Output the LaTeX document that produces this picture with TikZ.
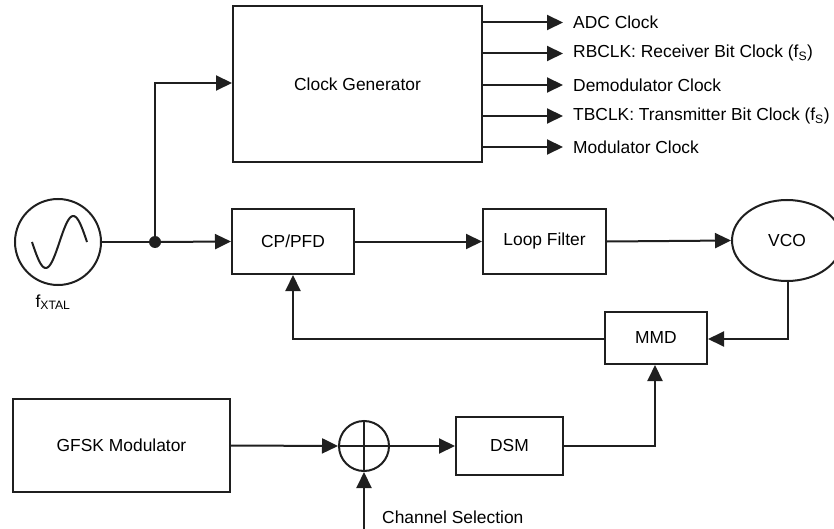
\documentclass[tikz,border=0pt]{standalone}
\usepackage{fontspec}
\setmainfont{Liberation Sans}
\usetikzlibrary{arrows.meta,shapes.geometric}
\tikzset{
  ln/.style={line width=2pt, draw=black!88},
  arr/.style={ln, -{Triangle[length=16pt,width=15pt]}},
  blk/.style={ln, rectangle, inner sep=0pt, font=\fontsize{17.4}{20}\selectfont},
  lbl/.style={inner sep=0pt, anchor=west, font=\fontsize{17.4}{20}\selectfont},
}
\begin{document}
\begin{tikzpicture}[x=1pt,y=-1pt]
\useasboundingbox (0,0) rectangle (834,529);
\clip (0,0) rectangle (834,529);
% blocks
\node[blk, minimum width=249pt, minimum height=156pt] (cg) at (357.5,84) {Clock Generator};
\node[blk, minimum width=122pt, minimum height=65pt] (pfd) at (293,241.5) {CP/PFD};
\node[blk, minimum width=123pt, minimum height=65pt] (lf) at (544.5,241.5) {Loop Filter};
\node[blk, ellipse, minimum width=110pt, minimum height=81pt] (vco) at (787,240.5) {VCO};
\node[blk, minimum width=102pt, minimum height=52pt] (mmd) at (656,338) {MMD};
\node[blk, minimum width=107pt, minimum height=58pt] (dsm) at (509.5,446) {DSM};
\node[blk, minimum width=217pt, minimum height=93pt] (gfsk) at (121.5,445.5) {GFSK Modulator};
\node[ln, circle, minimum size=50pt, inner sep=0pt] (sum) at (364,446) {};
\draw[ln] (sum.north) -- (sum.south) (sum.west) -- (sum.east);
% crystal oscillator
\node[ln, circle, minimum size=86pt, inner sep=0pt] (osc) at (58,242) {};
\draw[ln] plot[variable=\t, domain=0:360, samples=60, smooth] ({32+\t/360*55},{242+26*sin(\t)});
\node[inner sep=0pt, font=\fontsize{17.4}{20}\selectfont] (fx) at (53,302) {f\textsubscript{XTAL}};
\fill[black!88] (155,242) circle (6pt) coordinate (dot);
% clock outputs
\foreach \i/\yy/\t in {a/22.5/{ADC Clock},
  b/53.5/{RBCLK: Receiver Bit Clock (f\textsubscript{S})},
  c/85/{Demodulator Clock},
  d/116/{TBCLK: Transmitter Bit Clock (f\textsubscript{S})},
  e/147/{Modulator Clock}} {
  \node[lbl] (o\i) at (573,\yy) {\t};
  \coordinate (t\i) at (563,\yy);
  \draw[arr] (cg.east |- t\i) -- (t\i);
}
% connections
\draw[ln] (osc.east) -- (dot);
\draw[arr] (dot) -- (pfd.west);
\draw[arr] (dot) |- (cg.west |- 0,83);
\draw[arr] (pfd.east) -- (lf.west);
\draw[arr] (lf.east) -- (vco.west);
\draw[arr] (vco.south -| 788,0) |- (mmd.east |- 0,339);
\draw[arr] (mmd.west |- 0,339) -| (pfd.south);
\draw[arr] (gfsk.east) -- (sum.west);
\draw[arr] (sum.east) -- (dsm.west);
\draw[arr] (dsm.east) -| (mmd.south -| 655,0);
\coordinate (cs) at (364,529);
\draw[arr] (cs) -- (sum.south);
\node[lbl] (csl) at (382,517) {Channel Selection};
\end{tikzpicture}
\end{document}
